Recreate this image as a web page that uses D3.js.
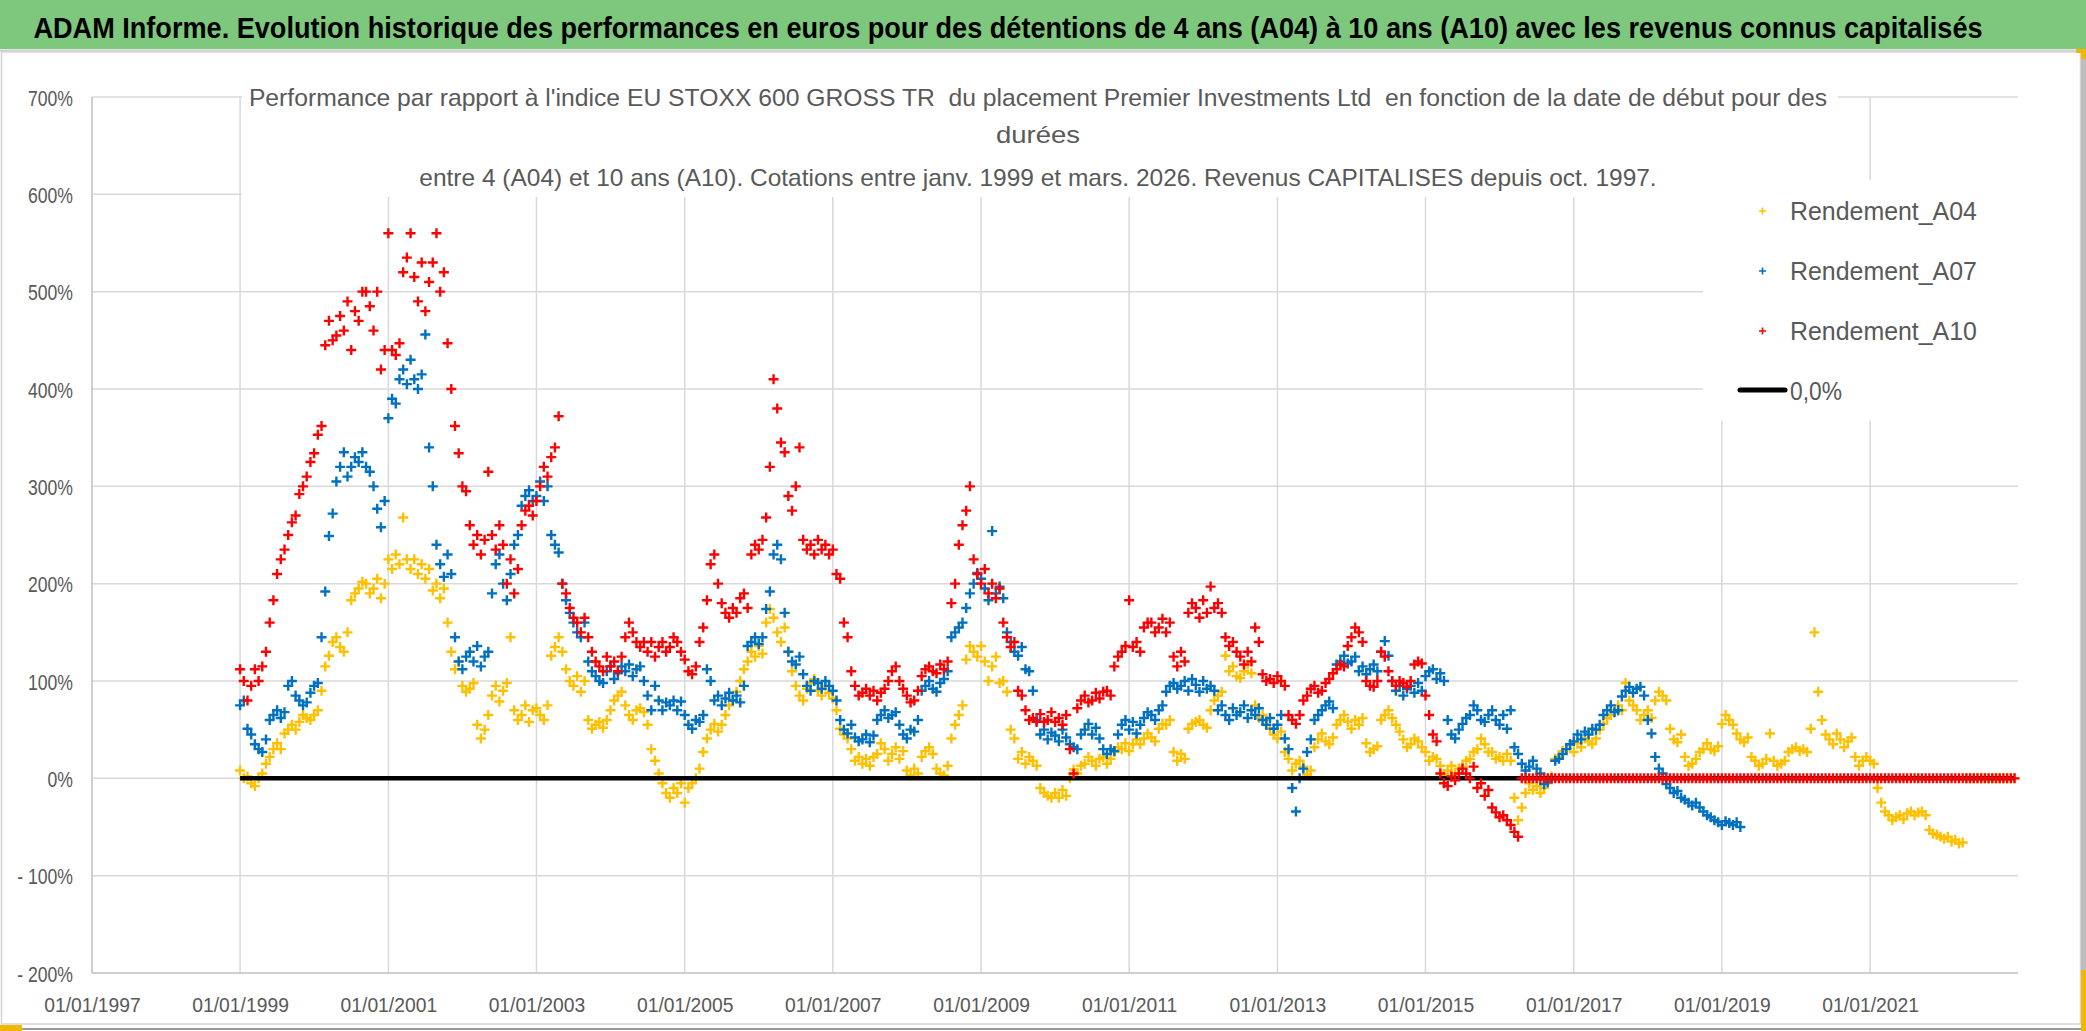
<!DOCTYPE html>
<html><head><meta charset="utf-8">
<script src="https://cdn.jsdelivr.net/npm/d3@7"></script>
<style>html,body{margin:0;padding:0;background:#fff;overflow:hidden}text{white-space:pre}</style>
</head><body>
<svg id="c" width="2086" height="1031"></svg>
<script>
// ---------------- DATA ----------------
const TITLE = "ADAM Informe. Evolution historique des performances en euros pour des détentions de 4 ans (A04) à 10 ans (A10) avec les revenus connus capitalisés";
const SUBTITLE = [
  "Performance par rapport à l'indice EU STOXX 600 GROSS TR  du placement Premier Investments Ltd  en fonction de la date de début pour des",
  "durées",
  "entre 4 (A04) et 10 ans (A10). Cotations entre janv. 1999 et mars. 2026. Revenus CAPITALISES depuis oct. 1997."
];
const yTicks = [-200, -100, 0, 100, 200, 300, 400, 500, 600, 700];
const xTickYears = [1997, 1999, 2001, 2003, 2005, 2007, 2009, 2011, 2013, 2015, 2017, 2019, 2021];
const seriesNames = ["Rendement_A04", "Rendement_A07", "Rendement_A10"];
const zeroLineName = "0,0%";
const zeroLineYears = [1999.0, 2022.95];
const zeroLineValues = [0, 0];

// start dates (decimal years) of each reading: first start date and spacing
const firstStart = 1999.0;
const stepYears = 0.05;

// Rendement_A04 (%), one row per year of start date
const a04 = [
  8,0, 2,-5, -8,0, 5,15, 22,30, 36,30, 46,50, 55,50, 58,65, 62,60,
  65,70, 90,115, 126,140, 145,135, 130,150, 183,190, 195,202, 200,190, 195,205, 185,200,
  225,215, 230,220, 268,225, 215,225, 210,220, 205,215, 193,200, 185,195, 160,130, 112,120,
  95,89, 92,98, 55,41, 50,65, 85,95, 79,90, 98,145, 70,60, 65,75, 58,70,
  72,65, 60,75, 126,135, 145,130, 112,100, 95,105, 89,100, 60,51, 55,58, 52,60,
  70,80, 85,89, 75,65, 60,70, 72,68, 55,30, 18,5, -5,-15, -20,-10, -15,-5,
  -25,-10, -5,0, 10,27, 41,50, 56,48, 55,65, 75,80, 89,100, 112,120, 130,125,
  136,128, 160,174, 165,150, 140,155, 130,110, 95,85, 80,92, 98,102, 90,85, 95,88,
  82,70, 51,45, 41,30, 18,22, 15,20, 13,22, 25,36, 30,18, 25,32, 20,28,
  8,3, 10,5, 22,28, 32,25, 10,5, 3,13, 41,55, 65,75, 122,136, 130,125,
  136,120, 100,115, 125,98, 100,89, 50,41, 20,27, 15,22, 18,13, -10,-15, -18,-20,
  -15,-20, -12,-18, 0,9, 5,13, 15,22, 18,13, 20,22, 15,20, 27,32, 30,36,
  28,35, 40,35, 41,46, 42,38, 51,56, 55,60, 27,18, 25,20, 51,56, 58,60,
  55,52, 70,80, 85,89, 126,110, 115,105, 103,110, 117,108, 75,62, 65,60, 51,45,
  41,48, 27,20, 8,15, 18,12, 4,8, 32,40, 46,38, 35,42, 55,60, 65,58,
  51,60, 55,62, 36,27, 30,33, 60,65, 70,62, 55,48, 40,32, 35,41, 38,32,
  27,18, 22,20, 13,4, 8,13, 5,10, 12,18, 20,27, 30,41, 35,27, 27,20,
  22,18, 25,18, -20,-43, -30,-15, -5,-12, -8,-15, -10,-5, 2,20, 22,28, 30,35,
  27,36, 32,41, 38,35, 41,50, 56,62, 65,70, 75,70, 98,80, 75,70, 60,65,
  70,62, 80,89, 85,80, 51,40, 37,45, 22,13, 15,20, 27,30, 36,30, 28,33,
  56,65, 60,55, 46,40, 37,42, 22,18, 13,15, 20,46, 18,13, 15,18, 27,30,
  32,28, 30,27, 51,150, 89,60, 45,40, 35,46, 40,32, 38,42, 22,13, 18,22,
  18,15, -10,-25, -34,-38, -43,-40, -38,-42, -36,-34, -38,-35, -34,-38, -53,-57, -58,-60,
  -62,-60, -65,-63, -67,-66, 0,0, 0,0, 0,0, 0,0, 0,0, 0,0, 0,0
];

// Rendement_A07 (%)
const a07 = [
  75,80, 51,45, 35,30, 27,40, 60,65, 70,62, 68,95, 100,85, 80,75, 78,88,
  95,98, 145,192, 249,272, 305,320, 335,310, 320,330, 325,335, 320,315, 300,277, 258,285,
  370,390, 385,410, 420,405, 430,410, 400,415, 456,340, 300,240, 220,207, 230,210, 145,120,
  112,125, 130,120, 136,115, 125,130, 190,220, 230,200, 183,210, 240,250, 280,290, 296,285,
  290,305, 285,300, 250,240, 232,200, 183,170, 160,150, 145,160, 120,110, 105,100, 98,110,
  115,102, 108,115, 110,117, 105,112, 115,100, 85,70, 95,80, 70,78, 75,80, 70,79,
  65,55, 51,60, 58,65, 112,100, 80,85, 75,82, 88,80, 85,78, 95,136, 140,145,
  138,145, 174,192, 230,240, 225,170, 130,120, 117,125, 107,95, 90,100, 98,92, 100,95,
  90,80, 60,50, 46,55, 42,38, 40,45, 37,44, 60,65, 70,62, 65,68, 55,45,
  41,50, 48,60, 90,95, 100,92, 89,98, 102,110, 145,150, 155,160, 175,190, 200,211,
  205,195, 183,254, 190,197, 185,150, 140,130, 126,135, 112,110, 90,60, 45,50, 40,47,
  44,38, 50,42, 35,32, 30,45, 50,56, 45,52, 41,30, 25,30, 28,45, 55,60,
  50,58, 46,55, 62,68, 65,60, 70,75, 89,95, 98,92, 95,100, 90,102, 96,89,
  100,92, 95,90, 70,75, 65,60, 72,65, 68,75, 62,70, 65,72, 60,55, 62,51,
  55,65, 41,30, -10,-34, 0,10, 27,40, 60,65, 70,75, 79,72, 117,120, 126,118,
  120,125, 110,115, 107,112, 117,110, 130,141, 126,100, 90,95, 85,92, 95,88, 98,90,
  105,110, 112,102, 108,100, 60,45, 41,50, 56,62, 65,75, 70,60, 58,65, 70,60,
  55,65, 51,70, 32,25, 15,8, 12,18, 10,5, -6,-4, 0,18, 20,25, 30,35,
  38,45, 40,48, 45,51, 50,55, 65,70, 75,68, 70,84, 90,94, 88,92, 94,85,
  60,46, 22,10, 5,-6, -10,-15, -13,-20, -22,-25, -28,-25, -30,-34, -38,-40, -43,-45,
  -48,-44, -46,-48, -45,-50
];

// Rendement_A10 (%)
const a10 = [
  112,100, 80,95, 112,100, 115,130, 160,183, 210,225, 235,250, 263,270, 292,300, 310,325,
  334,353, 362,445, 470,450, 455,475, 460,490, 440,480, 470,500, 500,485, 460,500, 420,440,
  560,440, 435,447, 520,535, 560,515, 490,530, 480,510, 530,560, 500,520, 447,400, 362,334,
  300,295, 260,240, 250,230, 245,315, 250,235, 260,240, 200,225, 190,215, 260,275, 280,270,
  285,300, 320,310, 330,340, 372,200, 190,175, 165,160, 150,165, 145,130, 120,115, 110,125,
  115,120, 110,125, 145,160, 150,140, 135,140, 130,140, 125,135, 140,130, 135,145, 140,130,
  122,110, 107,115, 140,155, 183,220, 230,200, 180,170, 165,175, 170,185, 190,175, 230,240,
  235,245, 268,320, 410,380, 345,335, 290,275, 300,340, 245,235, 240,230, 245,235, 240,230,
  235,210, 205,160, 145,110, 95,85, 88,92, 85,90, 80,88, 92,100, 110,115, 100,92,
  85,78, 80,90, 105,112, 115,110, 108,117, 112,120, 180,200, 240,260, 275,300, 225,210,
  200,215, 190,200, 185,195, 160,145, 135,140, 90,85, 70,60, 62,58, 66,58, 60,68,
  58,62, 55,65, 30,5, 72,80, 85,78, 80,88, 82,89, 90,85, 115,125, 130,136,
  183,135, 140,130, 155,160, 160,150, 155,164, 150,160, 125,115, 130,120, 170,180, 175,165,
  183,170, 197,175, 180,170, 145,136, 140,130, 125,117, 130,120, 155,140, 107,100, 102,98,
  105,100, 95,65, 60,56, 65,80, 85,92, 95,88, 90,98, 102,108, 112,117, 115,136,
  145,155, 150,140, 100,95, 94,100, 130,125, 110,100, 95,100, 98,94, 100,117, 120,118,
  85,65, 45,38, 5,-5, -8,2, -2,5, 10,5, 0,12, -10,-5, -18,-12, -30,-35,
  -40,-38, -43,-48, -55,-60, 0,0, 0,0, 0,0, 0,0, 0,0, 0,0, 0,0,
  0,0, 0,0, 0,0, 0,0, 0,0, 0,0, 0,0, 0,0, 0,0, 0,0,
  0,0, 0,0, 0,0, 0,0, 0,0, 0,0, 0,0, 0,0, 0,0, 0,0,
  0,0, 0,0, 0,0, 0,0, 0,0, 0,0, 0,0, 0,0, 0,0, 0,0,
  0,0, 0,0, 0,0, 0,0, 0,0, 0,0, 0,0, 0,0, 0,0, 0,0,
  0,0, 0,0, 0,0, 0,0, 0,0, 0,0, 0,0, 0,0, 0,0, 0,0,
  0,0, 0,0, 0,0, 0,0, 0,0, 0,0, 0,0, 0,0, 0,0, 0,0
];

// ---------------- DRAW ----------------
const W = 2086, H = 1031;
const FONT = "'Liberation Sans', Arial, sans-serif";
const GREY = "#595959";
const COLORS = {A04: "#FFC000", A07: "#0070C0", A10: "#FF0000"};
const svg = d3.select("#c");

function decToDate(t) {
  const yr = Math.floor(t + 1e-9);
  const start = new Date(yr, 0, 1), end = new Date(yr + 1, 0, 1);
  return new Date(start.getTime() + (t - yr) * (end - start));
}

// text placed at (x0, baseline) and squeezed horizontally to a target width
function fitText(str, x0, base, width, size, opts) {
  const t = svg.append("text").attr("x", 0).attr("y", 0)
    .attr("font-family", FONT).attr("font-size", size)
    .attr("fill", opts.fill || GREY).attr("font-weight", opts.bold ? "bold" : "normal")
    .attr("text-anchor", opts.anchor || "start").text(str);
  const natural = t.node().getComputedTextLength();
  const sx = Math.min(width / natural, 1.15);
  t.attr("transform", `translate(${x0},${base}) scale(${sx},1)`);
  return t;
}

const margin = {left: 92, right: 2018, top: 97, bottom: 973};
const x = d3.scaleTime().domain([new Date(1997, 0, 1), new Date(2022, 11, 31)]).range([margin.left, margin.right]);
const y = d3.scaleLinear().domain([-200, 700]).range([margin.bottom, margin.top]);

// background + title bar
svg.append("rect").attr("width", W).attr("height", H).attr("fill", "#fff");
svg.append("rect").attr("x", 0).attr("y", 0).attr("width", W).attr("height", 49).attr("fill", "#7dc87d");
svg.append("line").attr("x1", 0).attr("x2", W).attr("y1", 50.5).attr("y2", 50.5).attr("stroke", "#cfcfcf").attr("stroke-width", 2);
fitText(TITLE, 1008, 38, 1950, 29, {bold: true, fill: "#000", anchor: "middle"});

// chart border
svg.append("rect").attr("x", 1.5).attr("y", 52).attr("width", 2079).attr("height", 972)
  .attr("fill", "none").attr("stroke", "#d4d4d4").attr("stroke-width", 1.5);
svg.append("line").attr("x1", 0).attr("x2", W).attr("y1", 1029).attr("y2", 1029).attr("stroke", "#9a9a9a").attr("stroke-width", 2);
svg.append("rect").attr("x", 0).attr("y", 1025).attr("width", 22).attr("height", 6).attr("fill", "#f2b705");
svg.append("rect").attr("x", 2081).attr("y", 52).attr("width", 5).attr("height", 979).attr("fill", "#bdbdbd");
svg.append("rect").attr("x", 2076).attr("y", 49).attr("width", 10).attr("height", 4).attr("fill", "#f2b705");
svg.append("rect").attr("x", 2081).attr("y", 49).attr("width", 5).attr("height", 10).attr("fill", "#f2b705");
svg.append("rect").attr("x", 2081).attr("y", 970).attr("width", 5).attr("height", 61).attr("fill", "#f2b705");

// gridlines
const grid = svg.append("g").attr("stroke", "#d9d9d9").attr("stroke-width", 1.5);
grid.selectAll("line.h").data(yTicks.filter(v => v !== -200)).join("line")
  .attr("x1", margin.left).attr("x2", margin.right).attr("y1", d => y(d)).attr("y2", d => y(d));
grid.selectAll("line.v").data(xTickYears.slice(1)).join("line")
  .attr("x1", d => x(new Date(d, 0, 1))).attr("x2", d => x(new Date(d, 0, 1)))
  .attr("y1", margin.top).attr("y2", margin.bottom);
// axis lines
svg.append("line").attr("x1", margin.left).attr("x2", margin.left).attr("y1", margin.top).attr("y2", margin.bottom)
  .attr("stroke", "#bfbfbf").attr("stroke-width", 1.5);
svg.append("line").attr("x1", margin.left).attr("x2", margin.right).attr("y1", margin.bottom).attr("y2", margin.bottom)
  .attr("stroke", "#bfbfbf").attr("stroke-width", 1.5);

// subtitle box & legend box (white backgrounds hiding gridlines)
svg.append("rect").attr("x", 242).attr("y", 70).attr("width", 1596).attr("height", 127).attr("fill", "#fff");
svg.append("rect").attr("x", 1703).attr("y", 180).attr("width", 316).attr("height", 241).attr("fill", "#fff");

// y axis labels
const yAxis = d3.axisLeft(y).tickValues(yTicks).tickSize(0)
  .tickFormat(v => v < 0 ? "- " + Math.abs(v) + "%" : v + "%");
const gy = svg.append("g").attr("transform", `translate(${margin.left},0)`).call(yAxis);
gy.select(".domain").remove();
gy.selectAll(".tick text").attr("x", 0).attr("dy", null).attr("y", 0)
  .attr("font-family", FONT).attr("font-size", 22).attr("fill", GREY)
  .attr("text-anchor", "end")
  .attr("transform", "translate(-19,8) scale(0.8,1)");

// x axis labels
const xAxis = d3.axisBottom(x).tickValues(xTickYears.map(yv => new Date(yv, 0, 1))).tickSize(0)
  .tickFormat(d => "01/01/" + d.getFullYear());
const gx = svg.append("g").attr("transform", `translate(0,${margin.bottom})`).call(xAxis);
gx.select(".domain").remove();
gx.selectAll(".tick text").attr("y", 0).attr("dy", null)
  .attr("font-family", FONT).attr("font-size", 21).attr("fill", GREY)
  .attr("transform", "translate(0,39) scale(0.92,1)");

// subtitle
const subBase = [106, 143, 186];
const subLen = [1579, 84, 1238];
SUBTITLE.forEach((s, i) => fitText(s, 1038, subBase[i], subLen[i], 24, {anchor: "middle"}));

// series
function points(vals) {
  return vals.map((v, i) => ({t: decToDate(firstStart + i * stepYears), v})).filter(d => d.v !== null);
}
function drawSeries(vals, color) {
  const g = svg.append("g").attr("stroke", color).attr("stroke-width", 2.4).attr("fill", "none");
  g.selectAll("path").data(points(vals)).join("path")
    .attr("d", d => { const px = x(d.t), py = y(d.v); return `M${px - 5},${py}h10M${px},${py - 5}v10`; });
}
drawSeries(a04, COLORS.A04);
drawSeries(a07, COLORS.A07);
// zero line
const zl = d3.line().x(d => x(decToDate(d[0]))).y(d => y(d[1]));
svg.append("path").attr("d", zl(zeroLineYears.map((t, i) => [t, zeroLineValues[i]])))
  .attr("stroke", "#000").attr("stroke-width", 4.5).attr("fill", "none");
drawSeries(a10, COLORS.A10);

// legend
const legY = [220, 280, 340];
const legColors = [COLORS.A04, COLORS.A07, COLORS.A10];
seriesNames.forEach((n, i) => {
  const cy = legY[i] - 9;
  svg.append("path").attr("d", `M1759,${cy}h7M1762.5,${cy - 3.5}v7`).attr("stroke", legColors[i]).attr("stroke-width", 1.6);
  fitText(n, 1790, legY[i], 187, 26, {});
});
svg.append("line").attr("x1", 1740).attr("x2", 1785).attr("y1", 390).attr("y2", 390)
  .attr("stroke", "#000").attr("stroke-width", 5).attr("stroke-linecap", "round");
fitText(zeroLineName, 1790, 400, 52, 26, {});
</script>
</body></html>
